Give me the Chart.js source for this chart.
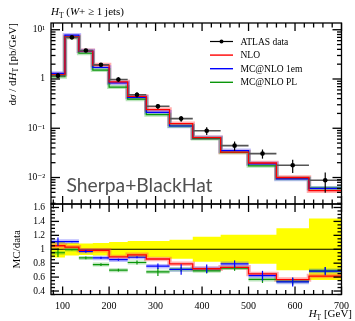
<!DOCTYPE html>
<html>
<head>
<meta charset="utf-8">
<script src="https://cdn.jsdelivr.net/npm/chart.js@4"></script>
<style>
  html, body { margin: 0; padding: 0; background: #fff; }
</style>
</head>
<body>
<canvas id="chart" width="355" height="321"></canvas>
<script>
// bin edges in H_T [GeV]
var edges = [75, 105, 135, 165, 200, 240, 280, 330, 380, 440, 500, 560, 630, 700]

// top panel, dsigma/dHT [pb/GeV]
var atlas    = [1.17, 7.0, 3.8, 1.95, 0.98, 0.48, 0.279, 0.157, 0.0893, 0.0444, 0.0306, 0.0177, 0.0088]
var atlasErr = [0.12, 0.088, 0.083, 0.088, 0.105, 0.12, 0.12, 0.135, 0.18, 0.21, 0.21, 0.30, 0.44]   // relative
var nlo      = [1.23, 7.21, 3.74, 1.92, 0.872, 0.442, 0.240, 0.124, 0.0643, 0.0329, 0.0197, 0.0100, 0.00541]
var mc1em    = [1.30, 7.77, 3.69, 1.71, 0.833, 0.425, 0.211, 0.111, 0.0643, 0.0351, 0.0190, 0.00938, 0.00604]
var mcPL     = [1.11, 6.97, 3.33, 1.52, 0.686, 0.389, 0.189, 0.111, 0.0616, 0.0324, 0.0173, 0.00956, 0.00607]

// ratio panel, MC/data
var nloRatio      = [1.05, 1.03, 0.985, 0.985, 0.89, 0.92, 0.86, 0.79, 0.72, 0.74, 0.645, 0.565, 0.615]
var mc1emRatio    = [1.11, 1.11, 0.97, 0.876, 0.85, 0.885, 0.757, 0.71, 0.72, 0.79, 0.62, 0.53, 0.686]
var mc1emRatioErr = [0.06, 0.01, 0.02, 0.015, 0.015, 0.015, 0.04, 0.075, 0.06, 0.05, 0.07, 0.065, 0.06]
var mcPLRatio     = [0.95, 0.995, 0.876, 0.78, 0.70, 0.81, 0.676, 0.71, 0.69, 0.73, 0.566, 0.54, 0.69]
var mcPLRatioErr  = [0.06, 0.01, 0.02, 0.02, 0.02, 0.03, 0.06, 0.03, 0.04, 0.04, 0.05, 0.05, 0.05]

var seriesNames = ['ATLAS data', 'NLO', 'MC@NLO 1em', 'MC@NLO PL']

// axis ticks
var xTicks = [100, 200, 300, 400, 500, 600, 700]
var logTicks = [0.01, 0.1, 1, 10]
var logTickLabels = ['10\u207B\u00B2', '10\u207B\u00B9', '1', '10\u00B9']
var ratioTicks = [0.4, 0.6, 0.8, 1, 1.2, 1.4, 1.6]

var RED = '#ff0000', BLUE = '#0000ff', GREEN = '#0a960a'
var RED_HALO = 'rgba(255,80,80,0.45)', BLUE_HALO = 'rgba(70,70,255,0.35)', GREEN_HALO = 'rgba(60,180,60,0.35)'
var SERIF = '"Liberation Serif", "DejaVu Serif", serif'

function steps(vals) {
  var pts = vals.map(function(v, i) { return {x: edges[i], y: v} })
  pts.push({x: edges[edges.length - 1], y: vals[vals.length - 1]})
  return pts
}

function bars(vals) {
  var pts = []
  vals.forEach(function(v, i) {
    pts.push({x: edges[i], y: v}, {x: edges[i + 1], y: v}, {x: edges[i + 1], y: null})
  })
  return pts
}

function centers(vals) {
  return vals.map(function(v, i) { return {x: (edges[i] + edges[i + 1]) / 2, y: v} })
}

function ds(data, axis, color, width, order, more) {
  var d = {data: data, yAxisID: axis, borderColor: color, borderWidth: width, pointRadius: 0,
           fill: false, order: order}
  for (var k in more) d[k] = more[k]
  return d
}

var datasets = [
  // data uncertainty band in ratio
  ds(steps(atlasErr.map(function(e) { return 1 - e })), 'yr', 'transparent', 0, 30, {stepped: true}),
  ds(steps(atlasErr.map(function(e) { return 1 + e })), 'yr', 'transparent', 0, 29,
     {stepped: true, fill: '-1', backgroundColor: '#ffff00'}),
  ds([{x: edges[0], y: 1}, {x: edges[edges.length - 1], y: 1}], 'yr', '#000', 1, 25),

  // halos
  ds(steps(mcPL), 'y', GREEN_HALO, 4, 20, {stepped: true}),
  ds(steps(mc1em), 'y', BLUE_HALO, 4.5, 20, {stepped: true}),
  ds(steps(nlo), 'y', RED_HALO, 4.5, 20, {stepped: true}),
  ds(bars(mcPLRatio), 'yr', GREEN_HALO, 4, 20),
  ds(bars(mc1emRatio), 'yr', BLUE_HALO, 4.5, 20),
  ds(steps(nloRatio), 'yr', RED_HALO, 4.5, 20, {stepped: true}),

  // MC lines
  ds(steps(mcPL), 'y', GREEN, 1.2, 6, {stepped: true, label: seriesNames[3]}),
  ds(steps(mc1em), 'y', BLUE, 1.2, 5, {stepped: true, label: seriesNames[2]}),
  ds(steps(nlo), 'y', RED, 1.3, 4, {stepped: true, label: seriesNames[1]}),
  ds(bars(mcPLRatio), 'yr', GREEN, 1.2, 6),
  ds(bars(mc1emRatio), 'yr', BLUE, 1.2, 5),
  ds(steps(nloRatio), 'yr', RED, 1.3, 4, {stepped: true}),

  // ATLAS data
  ds(bars(atlas), 'y', '#555', 1.6, 2),
  ds(centers(atlas), 'y', '#000', 0, 1, {showLine: false, pointRadius: 2.3, pointBackgroundColor: '#000',
     pointBorderWidth: 0, label: seriesNames[0]})
]

function tickLine(ctx, x1, y1, x2, y2) {
  ctx.beginPath(); ctx.moveTo(x1, y1); ctx.lineTo(x2, y2); ctx.stroke()
}

function rich(ctx, segs, x, y, align) {
  var w = 0
  segs.forEach(function(s) { ctx.font = s[1]; w += ctx.measureText(s[0]).width })
  var cx = align == 'right' ? x - w : (align == 'center' ? x - w / 2 : x)
  segs.forEach(function(s) {
    ctx.font = s[1]
    ctx.fillText(s[0], cx, y + (s[2] || 0))
    cx += ctx.measureText(s[0]).width
  })
}

var decor = {
  id: 'decor',
  afterDatasetsDraw: function(chart) {
    var ctx = chart.ctx, x = chart.scales.x, y = chart.scales.y, r = chart.scales.yr
    ctx.save()
    ctx.strokeStyle = '#000'
    ctx.lineWidth = 1.2
    atlas.forEach(function(v, i) {
      var px = x.getPixelForValue((edges[i] + edges[i + 1]) / 2)
      tickLine(ctx, px, y.getPixelForValue(v * (1 - atlasErr[i])), px, y.getPixelForValue(v * (1 + atlasErr[i])))
    })
    var mcErr = [[mcPLRatio, mcPLRatioErr, GREEN], [mc1emRatio, mc1emRatioErr, BLUE]]
    mcErr.forEach(function(m) {
      ctx.strokeStyle = m[2]
      m[0].forEach(function(v, i) {
        var px = x.getPixelForValue((edges[i] + edges[i + 1]) / 2)
        tickLine(ctx, px, r.getPixelForValue(v - m[1][i]), px, r.getPixelForValue(v + m[1][i]))
      })
    })
    ctx.restore()
  },
  afterDraw: function(chart) {
    var ctx = chart.ctx, x = chart.scales.x, y = chart.scales.y, r = chart.scales.yr
    ctx.save()
    ctx.strokeStyle = '#000'
    ctx.lineWidth = 1.3
    var l = x.left, rt = x.right

    function panel(sc, yt) {
      ctx.strokeRect(l, sc.top, rt - l, sc.bottom - sc.top)
      for (var v = 80; v <= 700; v += 20) {
        var px = x.getPixelForValue(v), len = v % 100 == 0 ? 8 : 4.5
        tickLine(ctx, px, sc.top, px, sc.top + len)
        tickLine(ctx, px, sc.bottom, px, sc.bottom - len)
      }
      yt.forEach(function(t) {
        var py = sc.getPixelForValue(t[0])
        if (py < sc.top - 0.5 || py > sc.bottom + 0.5) return
        tickLine(ctx, l, py, l + t[1], py)
        tickLine(ctx, rt, py, rt - t[1], py)
      })
    }
    var yt = []
    for (var e = -3; e <= 1; e++) for (var m = 1; m <= 9; m++) yt.push([m * Math.pow(10, e), m == 1 ? 9 : 4.5])
    panel(y, yt)
    var rtk = []
    for (var k = 7; k <= 33; k++) rtk.push([k * 0.05, k % 4 == 0 ? 8 : 4])
    panel(r, rtk)

    // texts
    ctx.fillStyle = '#000'
    ctx.textBaseline = 'alphabetic'
    var it = 'italic 11px ' + SERIF, rm = '11px ' + SERIF, sub = '7.5px ' + SERIF
    rich(ctx, [['H', it], ['T', sub, 2.5], [' (', rm], ['W', it], ['+ \u2265 1 jets)', rm]], 51, 15, 'left')
    rich(ctx, [['H', it], ['T', sub, 2.5], [' [GeV]', rm]], 352, 317, 'right')

    ctx.save()
    ctx.translate(15.5, 23)
    ctx.rotate(-Math.PI / 2)
    rich(ctx, [['d', rm], ['\u03C3', it], [' / d', rm], ['H', it], ['T', sub, 2.5], [' [pb/GeV]', rm]], 0, 0, 'right')
    ctx.restore()
    ctx.save()
    ctx.translate(19.5, (r.top + r.bottom) / 2)
    ctx.rotate(-Math.PI / 2)
    rich(ctx, [['MC/data', rm]], 0, 0, 'center')
    ctx.restore()

    ctx.fillStyle = '#505050'
    ctx.font = '19.3px Lato'
    ctx.fillText('Sherpa+BlackHat', 66.5, 191.5)

    // legend
    var cols = ['#000', RED, BLUE, GREEN]
    ctx.font = '9.5px ' + SERIF
    ctx.textBaseline = 'middle'
    seriesNames.forEach(function(n, i) {
      var ly = 41.5 + i * 13.6
      ctx.strokeStyle = cols[i]
      ctx.lineWidth = i == 0 ? 1.2 : 1.4
      tickLine(ctx, 210, ly, 233, ly)
      if (i == 0) {
        ctx.fillStyle = '#000'
        ctx.beginPath(); ctx.arc(221.5, ly, 2, 0, Math.PI * 2); ctx.fill()
      }
      ctx.fillStyle = '#000'
      ctx.fillText(n, 240.5, ly + 0.5)
    })
    ctx.restore()
  }
}

var chart = new Chart(document.getElementById('chart').getContext('2d'), {
  type: 'line',
  data: {datasets: datasets},
  plugins: [decor],
  options: {
    responsive: false,
    animation: false,
    devicePixelRatio: 1,
    layout: {padding: {top: 23, right: 8, left: 0, bottom: 0}},
    plugins: {legend: {display: false}, tooltip: {enabled: false}, title: {display: false}},
    scales: {
      x: {
        type: 'linear', min: 75, max: 700, bounds: 'data',
        grid: {display: false, drawTicks: false}, border: {display: false},
        afterBuildTicks: function(s) { s.ticks = xTicks.map(function(v) { return {value: v} }) },
        afterFit: function(s) { s.height = 26.5 },
        ticks: {font: {family: SERIF, size: 10}, color: '#000', padding: 6, maxRotation: 0, autoSkip: false}
      },
      yr: {
        type: 'linear', axis: 'y', position: 'left', stack: 'panels', stackWeight: 1, min: 0.35, max: 1.65, bounds: 'data',
        grid: {display: false, drawTicks: false}, border: {display: false},
        afterBuildTicks: function(s) { s.ticks = ratioTicks.map(function(v) { return {value: v} }) },
        afterFit: function(s) { s.width = 51 },
        ticks: {font: {family: SERIF, size: 9.5}, color: '#000', padding: 6, autoSkip: false,
                callback: function(v) { return String(+v.toFixed(1)) }}
      },
      y: {
        type: 'logarithmic', position: 'left', stack: 'panels', stackWeight: 2, min: 0.0029, max: 13.7, bounds: 'data',
        grid: {display: false, drawTicks: false}, border: {display: false},
        afterBuildTicks: function(s) { s.ticks = logTicks.map(function(v) { return {value: v} }) },
        afterFit: function(s) { s.width = 51 },
        ticks: {font: {family: SERIF, size: 9.5}, color: '#000', padding: 6, autoSkip: false,
                callback: function(v) { return logTickLabels[logTicks.indexOf(v)] }}
      }
    }
  }
})
</script>
</body>
</html>
